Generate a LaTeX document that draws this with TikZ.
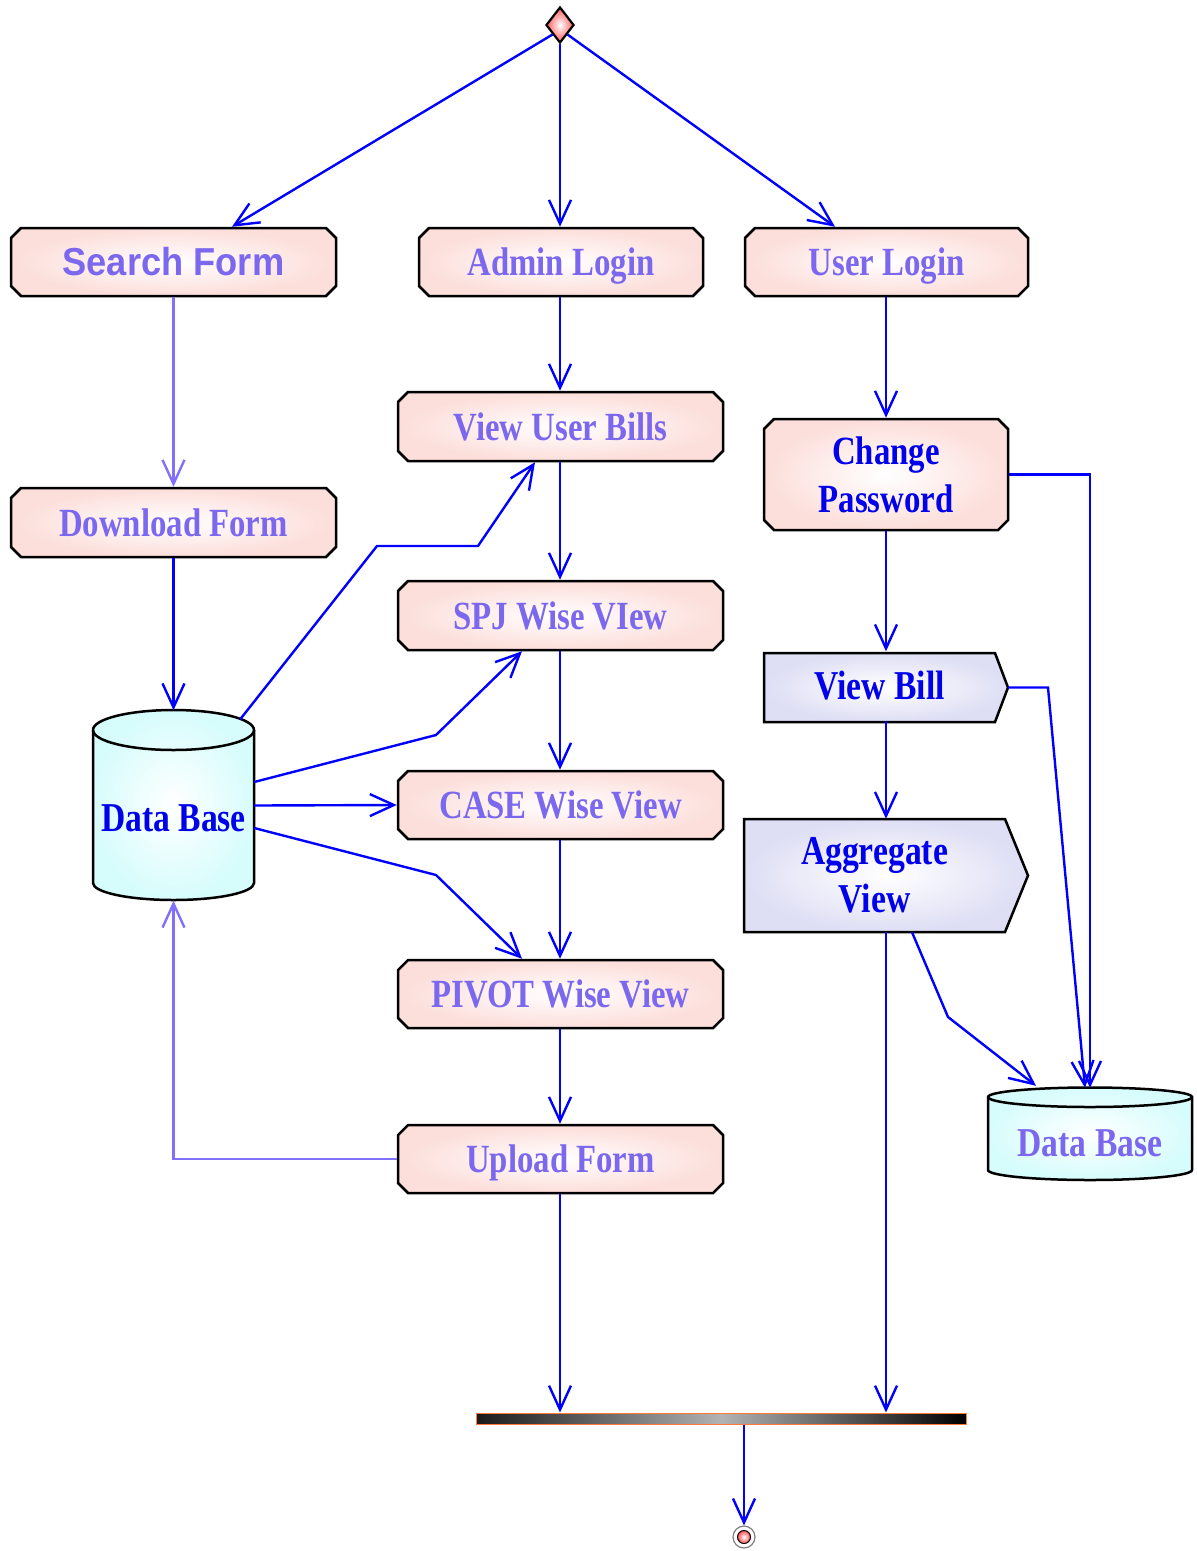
\documentclass[tikz,border=0pt]{standalone}
\usepackage{fontspec}
\newfontfamily\boxserif{Liberation Serif}[FakeStretch=0.82]
\newfontfamily\boxsans{Liberation Sans}[FakeStretch=0.93]
\usetikzlibrary{shapes.misc,shapes.geometric,arrows.meta,calc}
\definecolor{txtpurple}{RGB}{123,104,238}
\definecolor{txtblue}{RGB}{0,0,235}
\definecolor{lineblue}{RGB}{0,0,255}
\definecolor{linepurple}{RGB}{128,112,250}
\definecolor{pinkedge}{RGB}{252,222,218}
\definecolor{lavedge}{RGB}{222,222,245}
\definecolor{cyanedge}{RGB}{215,252,252}
\definecolor{barorange}{RGB}{255,120,60}
\tikzset{
  actbase/.style={chamfered rectangle, chamfered rectangle xsep=5pt, chamfered rectangle ysep=5pt,
    draw=black, line width=2.5pt, inner color=white, outer color=pinkedge, inner sep=0pt,
    font=\boxserif\bfseries\fontsize{40}{48}\selectfont, text=txtpurple, align=center},
  actbox/.style={actbase, text height=27pt, text depth=0pt},
  bluetxt/.style={inner sep=0pt, font=\boxserif\bfseries\fontsize{41}{48}\selectfont, text=txtblue, align=center},
  sigshape/.style={draw=black, line width=2.5pt, inner color=white, outer color=lavedge},
  cylshape/.style={draw=black, line width=2.5pt, inner color=white, outer color=cyanedge},
  anchorbox/.style={rectangle, inner sep=0pt, draw=none},
  flow/.style={draw=lineblue, line width=2.4pt, -{Straight Barb[length=24pt,width=22pt]}},
  flowp/.style={flow, draw=linepurple},
}
\begin{document}
\begin{tikzpicture}[x=1pt,y=1pt]
\useasboundingbox[fill=white] (0,0) rectangle (1197,-1551);

% start diamond
\node[diamond, aspect=0.78, minimum width=28, minimum height=36, inner sep=0pt, draw=black, line width=2.2pt,
  inner color=white, outer color=red!65] (start) at (560,-25) {};

% left column
\node[actbox, minimum width=325, minimum height=68, font=\boxsans\bfseries\fontsize{39}{44}\selectfont] (search) at (173.5,-262) {Search Form};
\node[actbox, minimum width=325, minimum height=69] (download) at (173.5,-522.5) {Download Form};

% middle column
\node[actbox, minimum width=284, minimum height=68] (admin) at (561,-262) {Admin Login};
\node[actbox, minimum width=325, minimum height=69] (vub) at (560.5,-426.5) {View User Bills};
\node[actbox, minimum width=325, minimum height=69] (spj) at (560.5,-615.5) {SPJ Wise VIew};
\node[actbox, minimum width=325, minimum height=68] (case) at (560.5,-805) {CASE Wise View};
\node[actbox, minimum width=325, minimum height=68] (pivot) at (560.5,-994) {PIVOT Wise View};
\node[actbox, minimum width=325, minimum height=68] (upload) at (560.5,-1159) {Upload Form};

% right column
\node[actbox, minimum width=283, minimum height=68] (user) at (886.5,-262) {User Login};
\node[actbase, minimum width=244, minimum height=111, text=txtblue] (change) at (886,-474.5) {Change\\Password};

% View Bill (signal-like)
\shade[sigshape] (764,-653) -- (995,-653) -- (1008,-687.5) -- (995,-722) -- (764,-722) -- cycle;
\node[anchorbox, bluetxt, minimum width=231, minimum height=69] (vb) at (879.5,-686) {View Bill};
\coordinate (vbtip) at (1008,-687.5);

% Aggregate View
\shade[sigshape] (744,-819) -- (1005,-819) -- (1028,-875.5) -- (1005,-932) -- (744,-932) -- cycle;
\node[anchorbox, bluetxt, minimum width=261, minimum height=113] (agg) at (874.5,-875.5) {Aggregate\\View};

% left database cylinder
\shade[cylshape] (93,-730) -- (93,-883) arc[start angle=180,end angle=360,x radius=80.5,y radius=17]
  -- (254,-730) arc[start angle=0,end angle=180,x radius=80.5,y radius=20] -- cycle;
\draw[black, line width=2.5pt] (93,-730) arc[start angle=180,end angle=360,x radius=80.5,y radius=20];
\node[anchorbox, minimum width=161, minimum height=190] (db1) at (173.5,-805.5) {};
\node[bluetxt] (db1txt) at (173.5,-818) {Data Base};

% right database cylinder
\shade[cylshape] (988,-1097) -- (988,-1170) arc[start angle=180,end angle=360,x radius=102,y radius=10]
  -- (1192,-1097) arc[start angle=0,end angle=180,x radius=102,y radius=9.5] -- cycle;
\draw[black, line width=2.5pt] (988,-1097) arc[start angle=180,end angle=360,x radius=102,y radius=10];
\node[anchorbox, minimum width=204, minimum height=92] (db2) at (1090,-1134) {};
\node[bluetxt, text=txtpurple] (db2txt) at (1090,-1143) {Data Base};

% join bar
\node[rectangle, minimum width=490, minimum height=11, inner sep=0pt, draw=barorange, line width=1pt,
  left color=black!90, right color=black, middle color=black!30] (bar) at (721,-1418.5) {};

% end node
\node[circle, minimum size=22, inner sep=0pt, draw=gray, line width=1.2pt, fill=white] (endring) at (744,-1537) {};
\node[circle, minimum size=13, inner sep=0pt, draw=black, line width=1pt, inner color=white, outer color=red!70] (end) at (744,-1537) {};

% connectors from start
\draw[flow] (start.south west) -- ($(search.north)+(58.5,0)$);
\draw[flow] (start.south) -- (start.south |- admin.north);
\draw[flow] (start.south east) -- ($(user.north)+(-51.5,0)$);

% left column
\draw[flowp] (search.south) -- (download.north);
\draw[flow] (download.south) -- (db1.north);
\draw[flowp] (upload.west) -| (db1.south);

% middle column
\draw[flow] (start.south |- admin.south) -- (start.south |- vub.north);
\draw[flow] (start.south |- vub.south) -- (start.south |- spj.north);
\draw[flow] (start.south |- spj.south) -- (start.south |- case.north);
\draw[flow] (start.south |- case.south) -- (start.south |- pivot.north);
\draw[flow] (start.south |- pivot.south) -- (start.south |- upload.north);
\draw[flow] (start.south |- upload.south) -- (start.south |- bar.north);

% database fan-out
\draw[flow] ($(db1.north east)+(-14,-9)$) -- (377,-546) -- (478,-546) -- ($(vub.south)+(-25.5,0)$);
\draw[flow] ($(db1.east)+(0,23.5)$) -- (436,-735) -- ($(spj.south)+(-38.5,0)$);
\draw[flow] (db1.east) -- (case.west);
\draw[flow] ($(db1.east)+(0,-22.5)$) -- (436,-875) -- ($(pivot.north)+(-38.5,0)$);

% right column
\draw[flow] (user.south -| change.south) -- (change.north);
\draw[flow] (change.south) -- (change.south |- vb.north);
\draw[flow] (change.south |- vb.south) -- (change.south |- agg.north);
\draw[flow] (change.east) -| (db2.north);
\draw[flow] (vbtip) -- (1048,-687.5) -- ($(db2.north)+(-5,0)$);
\draw[flow] ($(agg.south)+(37.5,0)$) -- (948,-1017) -- ($(db2.north)+(-54,2)$);
\draw[flow] (change.south |- agg.south) -- (change.south |- bar.north);

% to end
\draw[flow] (end |- bar.south) -- (endring.north);
\end{tikzpicture}
\end{document}
